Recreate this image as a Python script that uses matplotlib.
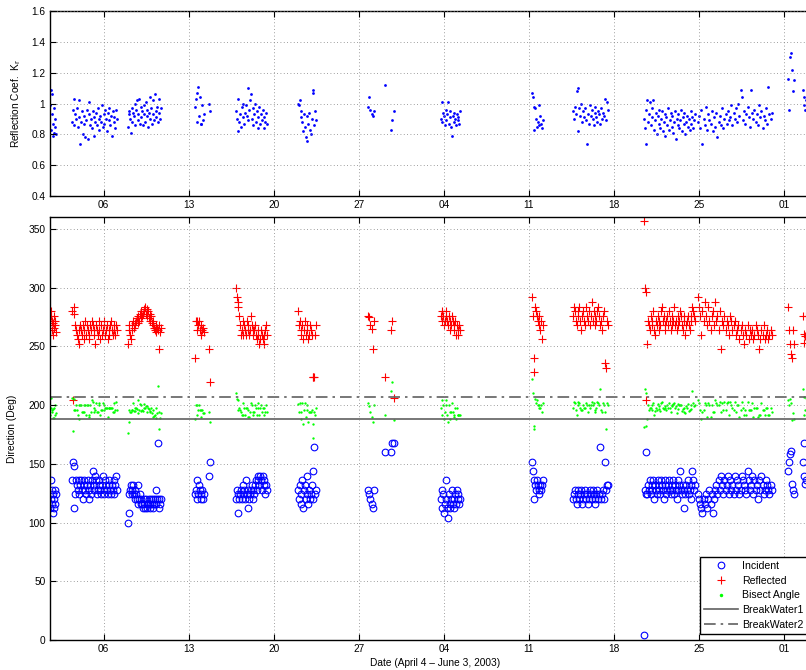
import numpy as np
import matplotlib
matplotlib.use('Agg')
import matplotlib.pyplot as plt

plt.rcParams['font.family'] = ['Liberation Sans', 'DejaVu Sans']
plt.rcParams['font.size'] = 7

# ---- sampling bursts (days since April 1, 2003 00:00) ----
burst_start = [0.58, 2.39, 7.00, 12.51, 13.66, 15.88, 20.99, 26.76, 28.14, 28.64,
               32.75, 40.24, 43.61, 49.46, 53.90, 61.30, 62.54]
burst_end   = [1.07, 6.09, 9.71, 13.25, 13.75, 18.43, 22.47, 27.26, 28.14, 28.89,
               34.32, 41.14, 46.49, 53.66, 59.99, 61.80, 62.79]
burst_size  = [12, 55, 45, 12, 2, 38, 22, 6, 1, 3, 25, 14, 38, 60, 65, 7, 5]

# ---- reflection coefficient ----
kr = [
    0.99, 1.09, 0.83, 0.93, 1.06, 0.79, 0.87, 0.97, 0.81, 0.90, 0.85, 0.80,
    0.88, 0.96, 1.03, 0.86, 0.93, 0.90, 0.97, 0.85, 0.91, 1.02, 0.74, 0.88, 0.95, 0.80, 0.92, 0.87, 0.78, 0.89, 0.96, 0.77,
    0.93, 1.01, 0.86, 0.90, 0.84, 0.95, 0.79, 0.91, 0.88, 0.94, 0.86, 0.97, 0.90, 0.83, 0.92, 0.88, 0.99, 0.85, 0.93, 0.87,
    0.96, 0.90, 0.82, 0.94, 0.89, 0.97, 0.86, 0.92, 0.79, 0.95, 0.88, 0.91, 0.84, 0.96, 0.90,
    0.85, 0.93, 0.95, 0.90, 0.81, 0.97, 0.88, 0.94, 0.92, 1.00, 0.86, 0.96, 1.02, 0.89, 0.93, 1.03, 0.87, 0.98, 0.91, 0.95,
    0.86, 0.99, 0.93, 0.88, 1.01, 0.92, 0.96, 0.85, 0.94, 1.04, 0.90, 0.97, 0.87, 1.02, 0.93, 0.89, 1.06, 0.95, 0.91, 0.98,
    0.88, 1.03, 0.94, 0.90, 0.97,
    0.98, 1.03, 1.07, 0.88, 1.11, 0.92, 1.04, 0.87, 0.87, 0.99, 0.89, 0.93,
    1.00, 0.95,
    0.95, 0.90, 0.82, 1.03, 0.88, 0.93, 0.85, 0.98, 1.00, 0.91, 0.87, 0.94, 0.99, 0.92, 1.10, 0.89, 0.96, 1.02, 1.06, 0.90,
    0.97, 0.86, 0.93, 1.00, 0.88, 0.95, 0.91, 0.84, 0.98, 0.87, 0.93, 0.89, 0.96, 0.84, 0.91, 0.88, 0.94, 0.87,
    1.00, 0.99, 1.02, 0.95, 0.91, 0.88, 0.82, 0.93, 0.85, 0.78, 0.92, 0.76, 0.87, 0.94, 0.83, 0.80, 0.90, 1.07, 1.09, 0.86,
    0.95, 0.89,
    0.98, 1.04, 0.96, 0.93, 0.92, 0.95,
    1.12,
    0.83, 0.89, 0.95,
    0.90, 1.01, 0.88, 0.94, 0.92, 0.86, 0.96, 0.89, 0.93, 1.01, 0.87, 0.95, 0.91, 0.85, 0.79, 0.92, 0.88, 0.94, 0.90, 0.86,
    0.93, 0.89, 0.91, 0.87, 0.95,
    1.07, 1.04, 0.98, 0.83, 0.97, 0.90, 0.85, 0.88, 0.99, 0.86, 0.92, 0.87, 0.84, 0.89,
    0.95, 0.90, 0.98, 0.93, 1.08, 1.10, 0.82, 0.97, 0.92, 1.00, 0.88, 0.95, 0.91, 0.97, 0.89, 0.74, 0.93, 0.87, 0.99, 0.92,
    0.96, 0.90, 0.86, 0.94, 0.98, 0.91, 0.88, 0.95, 0.93, 0.87, 0.97, 0.90, 0.94, 0.92, 1.03, 0.89, 1.01, 0.96,
    0.90, 0.84, 0.74, 0.96, 1.02, 0.88, 0.93, 1.01, 0.86, 0.91, 0.97, 1.02, 0.83, 0.89, 0.94, 0.80, 0.92, 0.87, 0.96, 0.84,
    0.90, 0.95, 0.82, 0.88, 0.93, 0.79, 0.91, 0.86, 0.97, 0.83, 0.89, 0.94, 0.85, 0.92, 0.81, 0.88, 0.95, 0.77, 0.90, 0.86,
    0.93, 0.84, 0.89, 0.96, 0.82, 0.91, 0.87, 0.94, 0.80, 0.88, 0.92, 0.85, 0.90, 0.83, 0.95, 0.87, 0.91, 0.84, 0.89, 0.93,
    0.88, 0.92, 0.84, 0.96, 0.74, 0.90, 0.86, 0.98, 0.83, 0.93, 0.89, 0.87, 0.95, 0.82, 0.91, 0.85, 0.94, 0.78, 0.88, 0.92,
    0.86, 0.97, 0.84, 0.90, 0.93, 0.87, 0.95, 0.89, 0.91, 0.99, 0.86, 0.94, 0.90, 0.97, 0.88, 1.00, 0.92, 1.09, 1.04, 0.89,
    0.95, 0.87, 0.93, 0.98, 0.91, 0.85, 1.09, 0.94, 0.90, 0.96, 0.88, 0.93, 0.86, 0.99, 0.91, 0.95, 0.84, 0.92, 0.89, 0.97,
    0.87, 1.11, 0.93, 0.90, 0.94,
    1.16, 0.96, 1.30, 1.33, 1.22, 1.08, 1.15,
    1.09, 1.04, 0.99, 0.96, 1.02,
]

# ---- incident wave direction (deg) ----
incident = [
    112, 120, 136, 128, 116, 108, 124, 120, 112, 128, 116, 124,
    136, 152, 148, 112, 124, 136, 132, 128, 136, 124, 132, 136, 128, 120, 132, 136, 128, 124, 132, 136,
    128, 120, 132, 124, 136, 144, 128, 132, 140, 136, 124, 128, 132, 136, 128, 124, 132, 140, 128, 124,
    136, 132, 128, 124, 132, 136, 128, 124, 132, 128, 136, 124, 132, 140, 128,
    100, 108, 124, 128, 132, 124, 128, 132, 124, 120, 128, 124, 120, 116, 132, 120, 124, 116, 120, 116,
    112, 120, 116, 112, 120, 116, 112, 116, 120, 112, 116, 120, 116, 112, 120, 116, 120, 128, 116, 120,
    168, 112, 120, 116, 120,
    124, 128, 136, 120, 124, 132, 128, 120, 124, 128, 120, 124,
    140, 152,
    120, 128, 124, 108, 120, 124, 128, 120, 132, 124, 128, 120, 136, 124, 128, 112, 120, 124, 128, 132,
    120, 128, 124, 132, 136, 128, 140, 136, 132, 140, 136, 128, 140, 132, 136, 124, 132, 128,
    128, 120, 132, 124, 116, 136, 112, 128, 132, 120, 124, 140, 116, 128, 120, 124, 132, 144, 120, 164,
    124, 128,
    128, 124, 120, 116, 112, 128,
    160,
    160, 168, 168,
    120, 128, 112, 124, 108, 116, 120, 136, 112, 104, 124, 116, 112, 120, 128, 116, 112, 120, 124, 116,
    128, 120, 124, 116, 120,
    152, 144, 120, 136, 132, 128, 136, 132, 128, 124, 132, 128, 132, 136,
    120, 124, 128, 120, 116, 124, 128, 120, 124, 128, 116, 120, 124, 128, 120, 124, 116, 120, 128, 124,
    120, 128, 124, 116, 120, 124, 128, 120, 124, 164, 120, 124, 128, 120, 152, 128, 132, 132,
    4, 128, 160, 124, 124, 132, 128, 136, 124, 132, 128, 136, 120, 132, 128, 124, 136, 132, 128, 124,
    136, 132, 128, 120, 132, 136, 124, 128, 132, 136, 128, 124, 132, 128, 136, 124, 132, 128, 120, 136,
    128, 132, 144, 128, 124, 132, 128, 112, 124, 132, 128, 136, 124, 128, 132, 120, 144, 136, 128, 132,
    124, 120, 116, 112, 108, 120, 116, 124, 112, 120, 128, 116, 124, 108, 120, 128, 132, 124, 136, 128,
    140, 132, 124, 136, 128, 132, 140, 124, 136, 128, 132, 124, 140, 128, 136, 132, 124, 128, 140, 136,
    132, 128, 124, 144, 136, 128, 132, 140, 124, 136, 128, 132, 120, 136, 128, 140, 132, 124, 128, 136,
    132, 128, 124, 132, 128,
    144, 152, 158, 161, 133, 128, 124,
    152, 168, 140, 133, 136,
]

# ---- reflected wave direction (deg) ----
reflected = [
    268, 276, 280, 264, 272, 260, 270, 276, 266, 272, 268, 262,
    280, 204, 284, 278, 268, 264, 260, 256, 264, 252, 268, 264, 260, 268, 256, 264, 272, 260, 268, 264,
    256, 260, 268, 264, 272, 268, 260, 264, 252, 268, 264, 260, 272, 264, 256, 268, 260, 264, 272, 268,
    260, 264, 268, 256, 264, 260, 268, 272, 264, 260, 268, 264, 260, 268, 264,
    252, 264, 268, 260, 256, 268, 264, 272, 266, 270, 268, 272, 274, 270, 276, 272, 278, 274, 280, 276,
    278, 282, 280, 284, 278, 282, 276, 280, 274, 278, 272, 276, 270, 268, 272, 266, 264, 268, 262, 266,
    264, 248, 268, 262, 266,
    240, 272, 272, 264, 268, 272, 264, 260, 268, 264, 266, 262,
    248, 220,
    300, 292, 288, 284, 276, 268, 260, 264, 272, 260, 268, 264, 260, 272, 264, 268, 260, 264, 276, 268,
    264, 260, 264, 268, 260, 256, 264, 260, 252, 256, 264, 260, 256, 252, 260, 264, 268, 260,
    280, 268, 272, 264, 260, 268, 256, 264, 272, 260, 268, 264, 256, 260, 268, 264, 260, 224, 224, 224,
    260, 268,
    276, 275, 268, 265, 248, 272,
    224,
    264, 272, 206,
    276, 280, 272, 276, 268, 272, 280, 276, 272, 268, 276, 272, 264, 268, 276, 272, 268, 264, 272, 260,
    268, 264, 260, 268, 264,
    292, 276, 240, 228, 284, 280, 276, 272, 268, 276, 264, 272, 256, 268,
    276, 284, 280, 272, 268, 276, 280, 284, 272, 264, 276, 280, 272, 268, 284, 276, 272, 280, 268, 276,
    288, 272, 280, 276, 268, 272, 280, 284, 276, 268, 272, 264, 276, 280, 236, 232, 272, 268,
    357, 300, 204, 296, 252, 272, 268, 264, 276, 272, 268, 280, 264, 260, 272, 268, 276, 264, 272, 268,
    280, 284, 272, 276, 268, 264, 272, 276, 268, 280, 272, 264, 268, 276, 272, 284, 268, 272, 264, 276,
    268, 272, 280, 276, 268, 264, 272, 276, 260, 268, 272, 276, 268, 264, 272, 276, 284, 280, 276, 272,
    292, 284, 276, 260, 280, 272, 288, 276, 268, 284, 272, 264, 276, 280, 268, 288, 272, 276, 264, 280,
    248, 272, 268, 276, 264, 272, 268, 260, 276, 272, 264, 268, 272, 260, 264, 268, 256, 264, 268, 260,
    252, 264, 260, 268, 256, 264, 260, 264, 256, 260, 268, 264, 260, 248, 256, 264, 260, 268, 256, 260,
    264, 256, 260, 264, 260,
    284, 264, 252, 244, 240, 264, 252,
    276, 261, 253, 259, 276,
]

# ---- bisect angle (deg) ----
bisect = [
    192, 198, 206, 196, 194, 189, 197, 198, 189, 200, 192, 193,
    206, 178, 205, 196, 196, 200, 196, 192, 200, 188, 200, 200, 194, 194, 194, 200, 200, 192, 200, 200,
    192, 190, 200, 194, 204, 203, 194, 198, 196, 202, 194, 194, 202, 200, 192, 196, 196, 202, 200, 196,
    198, 198, 198, 190, 198, 198, 198, 198, 198, 194, 202, 194, 196, 203, 196,
    176, 186, 196, 194, 194, 196, 196, 202, 195, 195, 198, 198, 197, 193, 204, 196, 201, 195, 200, 196,
    195, 201, 198, 198, 199, 199, 194, 198, 197, 195, 194, 198, 193, 190, 196, 191, 192, 198, 189, 193,
    216, 180, 194, 189, 193,
    188, 200, 200, 192, 196, 200, 196, 190, 196, 196, 193, 193,
    194, 186,
    210, 205, 204, 196, 198, 196, 194, 192, 202, 192, 198, 192, 198, 198, 196, 190, 190, 194, 202, 200,
    192, 194, 194, 200, 198, 192, 202, 198, 192, 198, 200, 194, 198, 192, 198, 194, 200, 194,
    201, 194, 202, 194, 188, 202, 184, 196, 202, 190, 196, 200, 186, 194, 194, 194, 196, 184, 172, 194,
    192, 198,
    202, 199, 194, 190, 186, 200,
    192,
    212, 220, 187,
    198, 204, 192, 200, 188, 194, 200, 204, 192, 186, 200, 194, 188, 194, 202, 194, 190, 192, 198, 188,
    198, 192, 192, 192, 192,
    222, 210, 180, 182, 205, 202, 204, 200, 198, 200, 198, 200, 194, 202,
    198, 203, 202, 196, 192, 200, 203, 202, 198, 196, 196, 200, 198, 198, 202, 200, 194, 200, 198, 200,
    203, 200, 202, 196, 194, 198, 203, 202, 200, 214, 196, 194, 202, 200, 194, 180, 202, 200,
    181, 214, 182, 210, 188, 200, 196, 198, 198, 200, 196, 202, 192, 195, 198, 196, 201, 197, 199, 195,
    202, 203, 198, 197, 199, 198, 196, 200, 198, 202, 198, 194, 199, 200, 201, 202, 198, 199, 193, 201,
    197, 200, 200, 200, 195, 197, 198, 194, 193, 199, 198, 201, 195, 196, 200, 197, 212, 202, 199, 200,
    204, 202, 196, 188, 194, 196, 202, 200, 190, 202, 200, 190, 200, 194, 194, 204, 202, 200, 200, 203,
    194, 202, 196, 203, 196, 202, 203, 192, 203, 200, 198, 196, 203, 194, 200, 200, 190, 196, 203, 198,
    192, 196, 192, 203, 196, 196, 196, 202, 190, 198, 198, 198, 190, 192, 192, 202, 196, 196, 192, 198,
    198, 192, 192, 198, 194,
    204, 200, 205, 202, 187, 193, 188,
    214, 207, 192, 196, 206,
]

breakwater1 = 188.0
breakwater2 = 207.0

tick_days = [5, 12, 19, 26, 33, 40, 47, 54, 61]
tick_labels = ['06', '13', '20', '27', '04', '11', '18', '25', '01']
x_range = (0.54, 64.0)
kr_range = (0.4, 1.6)
kr_ticks = [0.4, 0.6, 0.8, 1.0, 1.2, 1.4, 1.6]
kr_ticklabels = ['0.4', '0.6', '0.8', '1', '1.2', '1.4', '1.6']
dir_range = (0, 360)
dir_ticks = [0, 50, 100, 150, 200, 250, 300, 350]

t = np.concatenate([np.linspace(s, e, n) for s, e, n in zip(burst_start, burst_end, burst_size)])
n = len(t)
assert len(kr) == n and len(incident) == n and len(reflected) == n and len(bisect) == n, \
    (n, len(kr), len(incident), len(reflected), len(bisect))

W, H = 806, 670
fig = plt.figure(figsize=(W / 100, H / 100), dpi=100)
left = 49.5 / W
width = (820.5 - 49.5) / W
ax1 = fig.add_axes([left, 1 - 196 / H, width, 185 / H])
ax2 = fig.add_axes([left, 1 - 640 / H, width, (640 - 217.3) / H])

grid_kw = dict(color='#7f7f7f', linestyle=(0, (1, 3)), linewidth=0.6)

def style(ax):
    ax.set_xlim(*x_range)
    ax.set_xticks(tick_days)
    ax.set_xticklabels(tick_labels)
    ax.tick_params(direction='in', top=True, right=True, length=4, width=0.8,
                   labelsize=7.3, pad=3)
    for sp in ax.spines.values():
        sp.set_linewidth(1.0)
    ax.grid(True, **grid_kw)
    ax.set_axisbelow(False)

# top: reflection coefficient
ax1.plot(t, kr, linestyle='none', marker='o', ms=2.0, mew=0, color=(0, 0, 1))
ax1.set_ylim(*kr_range)
ax1.set_yticks(kr_ticks)
ax1.set_yticklabels(kr_ticklabels)
style(ax1)
ax1.set_ylabel('Reflection Coef.  K$_\\mathrm{r}$', fontsize=7.3, labelpad=6)

# bottom: directions
h1, = ax2.plot(t, incident, linestyle='none', marker='o', ms=4.8, mfc='none',
               mec=(0, 0, 1), mew=0.8, label='Incident')
h2, = ax2.plot(t, reflected, linestyle='none', marker='+', ms=5.8, color=(1, 0, 0),
               mew=0.8, label='Reflected')
h3, = ax2.plot(t, bisect, linestyle='none', marker='o', ms=1.7, mew=0,
               color=(0, 1, 0), label='Bisect Angle')
h4 = ax2.axhline(breakwater1, color='#606060', linewidth=1.2, label='BreakWater1')
h5 = ax2.axhline(breakwater2, color='#606060', linewidth=1.2,
                 linestyle=(0, (7, 3, 1.5, 3)), label='BreakWater2')
ax2.set_ylim(*dir_range)
ax2.set_yticks(dir_ticks)
style(ax2)
ax2.set_ylabel('Direction (Deg)', fontsize=7.3, labelpad=8)
ax2.set_xlabel('Date (April 4 \u2013 June 3, 2003)', fontsize=7.3, labelpad=3)

leg = ax2.legend(handles=[h1, h2, h3, h4, h5], loc='lower right',
                 bbox_to_anchor=(0.9838, 0.0142), fontsize=7.6,
                 frameon=True, fancybox=False, framealpha=1, edgecolor='black',
                 handlelength=3.2, handletextpad=0.4, labelspacing=0.45,
                 borderpad=0.4, borderaxespad=0.0, markerscale=1.0)
leg.get_frame().set_linewidth(1.0)
h3_leg = leg.legend_handles[2]
h3_leg.set_markersize(2.5)

fig.savefig('out.png', dpi=100)
